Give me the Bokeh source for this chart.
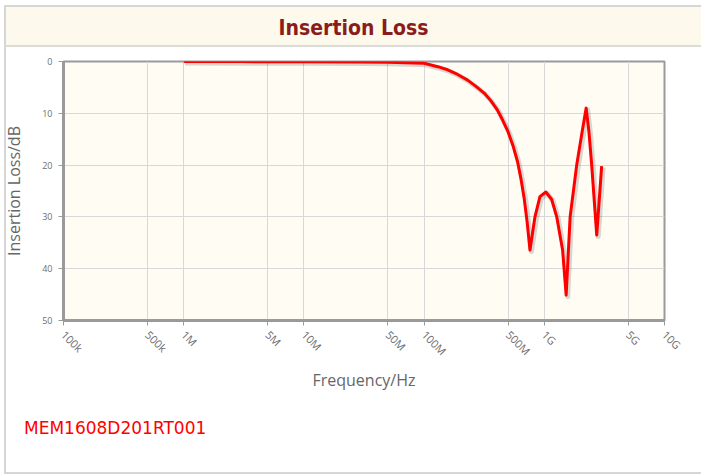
from bokeh.plotting import figure
from bokeh.models import Div, Range1d, FixedTicker
from bokeh.layouts import column
from bokeh.embed import file_html
from bokeh.resources import INLINE

# ---- data ----
freq_hz = [1e6, 3e6, 1e7, 3e7, 5e7, 1e8, 1.3e8, 1.57e8, 1.9e8, 2.3e8, 2.7e8, 3.16e8, 3.6e8, 4.08e8,
           4.5e8, 5e8, 5.5e8, 6e8, 6.4e8, 6.8e8, 7.2e8, 7.6e8, 7.85e8, 8.36e8, 9.2e8, 1.03e9, 1.15e9,
           1.27e9, 1.42e9, 1.52e9, 1.64e9, 1.86e9, 2.05e9, 2.23e9, 2.35e9, 2.48e9, 2.73e9, 3.0e9]
loss_db = [0.0, 0.02, 0.05, 0.1, 0.15, 0.35, 1.0, 1.6, 2.5, 3.6, 4.8, 6.1, 7.6, 9.4,
           11.3, 13.6, 16.3, 19.4, 22.7, 26.4, 31.0, 36.4, 34.2, 30.0, 26.1, 25.2, 26.6,
           30.0, 36.4, 45.1, 30.0, 20.0, 14.0, 9.0, 13.5, 20.0, 33.5, 20.2]
x_ticks = [1e5, 5e5, 1e6, 5e6, 1e7, 5e7, 1e8, 5e8, 1e9, 5e9, 1e10]
x_tick_labels = ["100k", "500k", "1M", "5M", "10M", "50M", "100M", "500M", "1G", "5G", "10G"]
y_ticks = [0, 10, 20, 30, 40, 50]
title_text = "Insertion Loss"
part_name = "MEM1608D201RT001"

W = 701
BORDER = "#d6d6d6"

title = Div(
    text=f'<div style="box-sizing:border-box;margin:5px 0 0 4px;width:{W - 4}px;height:42px;line-height:42px;'
         f'text-align:center;background:#fdf9ec;border-top:2px solid {BORDER};'
         f'border-left:2px solid {BORDER};border-bottom:2px solid #dcdcd6;'
         f'font-family:\'DejaVu Sans Condensed\',\'DejaVu Sans\',sans-serif;font-weight:bold;'
         f'font-size:21px;color:#8b1c1c;">{title_text}</div>',
    width=W, height=47, margin=(0, 0, 0, 0))

p = figure(width=W, height=347, x_axis_type="log",
           x_range=Range1d(1e5, 1e10), y_range=Range1d(50, 0),
           output_backend="svg", toolbar_location=None,
           min_border_left=63, min_border_right=37, min_border_top=14, min_border_bottom=10,
           background_fill_color="#fffcf4", border_fill_alpha=0,
           margin=(0, 0, 0, 0),
           styles={"background": f"linear-gradient(to right, white 4px, {BORDER} 4px, {BORDER} 6px, white 6px)"})
p.outline_line_color = "#9a9a9a"
p.outline_line_width = 2

# soft drop shadow of the series line (same data, ranges shifted ~1.5px)
p.extra_x_ranges = {"sh": Range1d(1e5 / 10 ** (1.5 / 120), 1e10 / 10 ** (1.5 / 120))}
p.extra_y_ranges = {"sh": Range1d(50 - 0.3, 0 - 0.3)}
p.line(freq_hz, loss_db, x_range_name="sh", y_range_name="sh",
       line_color="#000000", line_alpha=0.15, line_width=5, line_join="round")
p.line(freq_hz, loss_db, line_color="#ff0000", line_width=3, line_join="round")

xa = p.xaxis[0]
xa.ticker = FixedTicker(ticks=x_ticks)
xa.major_label_overrides = {t: l for t, l in zip(x_ticks, x_tick_labels)}
xa.major_label_orientation = -0.785
xa.minor_tick_line_color = None
xa.axis_label = "Frequency/Hz"
xa.axis_line_color = "#9a9a9a"
xa.axis_line_width = 3
xa.major_tick_line_color = "#9a9a9a"
xa.major_tick_out = 5
xa.major_tick_in = 0
xa.major_label_standoff = 7
xa.major_label_text_font = "Open Sans"
xa.major_label_text_font_size = "11px"
xa.major_label_text_color = "#6e6e6e"
xa.axis_label_text_font = "Open Sans"
xa.axis_label_text_font_style = "normal"
xa.axis_label_text_font_size = "16px"
xa.axis_label_text_color = "#666666"
xa.axis_label_standoff = 3

ya = p.yaxis[0]
ya.ticker = FixedTicker(ticks=y_ticks)
ya.minor_tick_line_color = None
ya.axis_label = "Insertion Loss/dB"
ya.axis_line_color = "#9a9a9a"
ya.axis_line_width = 3
ya.major_tick_line_color = "#9a9a9a"
ya.major_tick_out = 5
ya.major_tick_in = 0
ya.major_label_standoff = 6
ya.major_label_text_font = "Open Sans"
ya.major_label_text_font_size = "9px"
ya.major_label_text_color = "#6e6e6e"
ya.axis_label_text_font = "Open Sans"
ya.axis_label_text_font_style = "normal"
ya.axis_label_text_font_size = "16px"
ya.axis_label_text_color = "#666666"
ya.axis_label_standoff = 14

p.xgrid.ticker = FixedTicker(ticks=x_ticks)
p.ygrid.ticker = FixedTicker(ticks=y_ticks)
p.grid.grid_line_color = "#d8d8d8"
p.grid.grid_line_width = 1

footer = Div(
    text=f'<div style="box-sizing:border-box;margin-left:4px;width:{W - 4}px;height:80px;padding:22px 0 0 18px;'
         f'border-left:2px solid {BORDER};border-bottom:2px solid {BORDER};'
         f'font-family:\'DejaVu Sans\',sans-serif;font-size:17px;color:#ff0000;">{part_name}</div>',
    width=W, height=80, margin=(0, 0, 0, 0))

layout = column(title, p, footer, spacing=0)
open("out.html", "w").write(file_html(layout, INLINE))
